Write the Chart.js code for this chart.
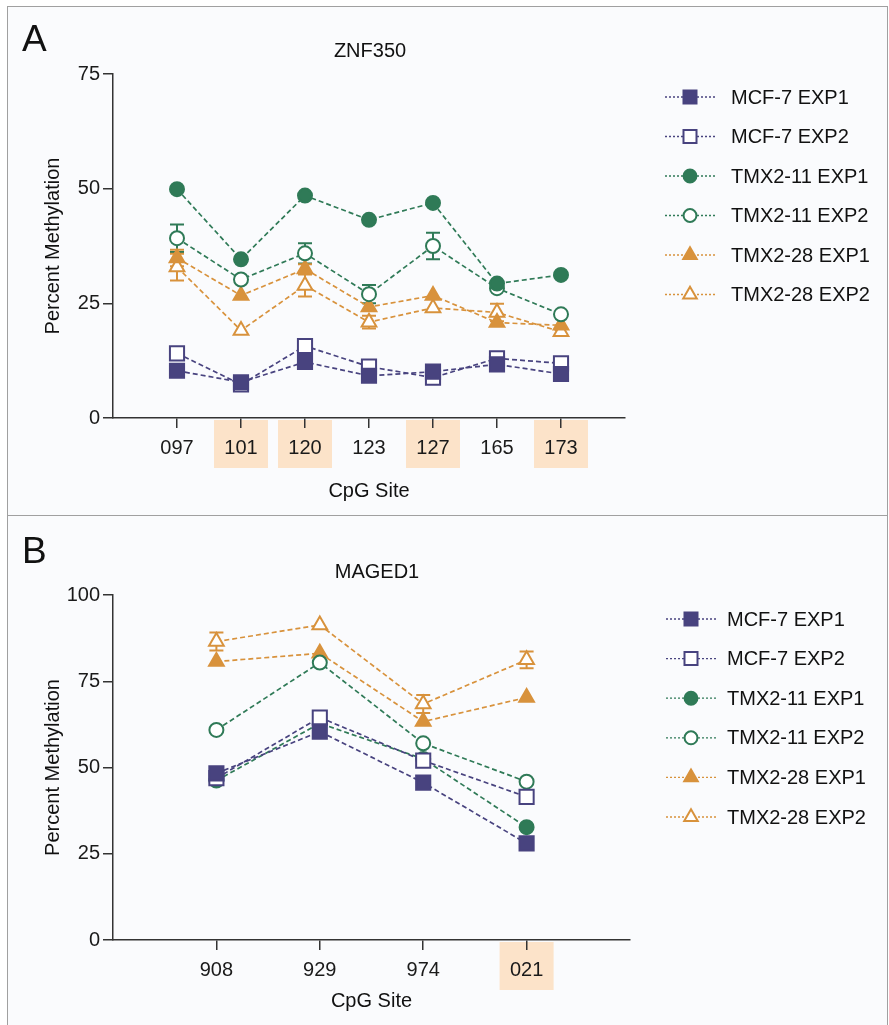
<!DOCTYPE html>
<html>
<head>
<meta charset="utf-8">
<script src="https://cdn.jsdelivr.net/npm/chart.js@4.4.1/dist/chart.umd.min.js"></script>
<style>
  body { margin: 0; background: #fff; width: 889px; height: 1025px; position: relative; overflow: hidden; }
  .panel { position: absolute; left: 7px; width: 881px; border: 1.5px solid #a0a0a0; background: #fafbfd; box-sizing: border-box; }
  #panelA { top: 6px; height: 511px; }
  #panelB { top: 515px; height: 520px; }
  canvas { position: absolute; left: 9px; }
  #chartA { top: 8px; }
  #chartB { top: 518px; }
</style>
</head>
<body>
<div class="panel" id="panelA"></div>
<div class="panel" id="panelB"></div>
<canvas id="chartA" width="878" height="506"></canvas>
<canvas id="chartB" width="878" height="506"></canvas>
<script>
// series names (same for both panels)
var seriesNames = ['MCF-7 EXP1', 'MCF-7 EXP2', 'TMX2-11 EXP1', 'TMX2-11 EXP2', 'TMX2-28 EXP1', 'TMX2-28 EXP2'];

// Panel A - ZNF350
var sitesA = ['097', '101', '120', '123', '127', '165', '173'];
var highlightA = ['101', '120', '127', '173'];
var a_mcf7_exp1 = [10.3, 7.8, 12.2, 9.2, 10.1, 11.7, 9.6];
var a_mcf7_exp2 = [14.1, 7.3, 15.7, 11.2, 8.8, 13.0, 11.9];
var a_tmx11_exp1 = [49.9, 34.6, 48.5, 43.2, 46.9, 29.3, 31.2];
var a_tmx11_exp2 = [39.2, 30.2, 35.9, 27.0, 37.5, 28.3, 22.6];
var a_tmx28_exp1 = [34.9, 26.7, 32.5, 24.2, 26.7, 20.8, 20.2];
var a_tmx28_exp2 = [32.9, 19.1, 28.9, 20.9, 24.0, 23.0, 18.8];
// error bars (0 = none visible)
var a_tmx11_exp2_err = [3.0, 0, 2.2, 2.0, 2.9, 0, 0];
var a_tmx28_exp1_err = [1.8, 0, 1.0, 0, 0, 0, 0];
var a_tmx28_exp2_err = [2.9, 0, 2.4, 1.4, 0, 1.9, 0];
var yTicksA = [0, 25, 50, 75];

// Panel B - MAGED1
var sitesB = ['908', '929', '974', '021'];
var highlightB = ['021'];
var b_mcf7_exp1 = [48.3, 60.4, 45.6, 28.0];
var b_mcf7_exp2 = [46.9, 64.5, 52.0, 41.5];
var b_tmx11_exp1 = [46.2, 62.8, 52.5, 32.7];
var b_tmx11_exp2 = [60.9, 80.4, 57.0, 45.9];
var b_tmx28_exp1 = [80.7, 83.1, 63.3, 70.3];
var b_tmx28_exp2 = [86.5, 91.3, 68.4, 81.2];
var b_tmx28_exp2_err = [2.6, 0, 2.6, 2.4];
var yTicksB = [0, 25, 50, 75, 100];

// styles
var NAVY = '#48437f', GREEN = '#2f7a57', ORANGE = '#d8923c';
var seriesColor = [NAVY, NAVY, GREEN, GREEN, ORANGE, ORANGE];
var seriesShape = ['rect', 'rect', 'circle', 'circle', 'triangle', 'triangle'];
var seriesFilled = [true, false, true, false, true, false];
var seriesRadius = [10, 10, 7, 7, 8.5, 8.5];
var FONT = '"Liberation Sans", Arial, Helvetica, sans-serif';
var AXIS = '#333333';

function drawMarker(ctx, shape, x, y, r, filled, color) {
    ctx.save();
    ctx.beginPath();
    if (shape === 'rect') {
        var s = r * Math.SQRT1_2;
        ctx.rect(x - s, y - s, 2 * s, 2 * s);
    } else if (shape === 'circle') {
        ctx.arc(x, y, r, 0, Math.PI * 2);
    } else {
        ctx.moveTo(x, y - r);
        ctx.lineTo(x + r * 0.866, y + r * 0.5);
        ctx.lineTo(x - r * 0.866, y + r * 0.5);
        ctx.closePath();
    }
    ctx.fillStyle = filled ? color : '#ffffff';
    ctx.fill();
    ctx.lineWidth = 2;
    ctx.strokeStyle = color;
    ctx.stroke();
    ctx.restore();
}

var decorPlugin = {
    id: 'decor',
    beforeDraw: function (chart, args, opts) {
        var ctx = chart.ctx, xs = chart.scales.x, area = chart.chartArea;
        ctx.save();
        ctx.fillStyle = '#fce3c9';
        opts.highlights.forEach(function (lab) {
            var i = opts.sites.indexOf(lab);
            var px = xs.getPixelForValue(i);
            ctx.fillRect(px - 27, area.bottom + 2, 54, 48);
        });
        ctx.restore();
    },
    beforeDatasetsDraw: function (chart, args, opts) {
        var ctx = chart.ctx, ys = chart.scales.y, xs = chart.scales.x;
        ctx.save();
        ctx.lineWidth = 2;
        opts.errors.forEach(function (e) {
            var vals = chart.data.datasets[e.ds].data;
            ctx.strokeStyle = seriesColor[e.ds];
            e.err.forEach(function (d, i) {
                if (!d) return;
                var px = xs.getPixelForValue(i);
                var top = ys.getPixelForValue(vals[i].y + d);
                var bot = ys.getPixelForValue(vals[i].y - d);
                ctx.beginPath();
                ctx.moveTo(px, top); ctx.lineTo(px, bot);
                ctx.moveTo(px - 7, top); ctx.lineTo(px + 7, top);
                ctx.moveTo(px - 7, bot); ctx.lineTo(px + 7, bot);
                ctx.stroke();
            });
        });
        ctx.restore();
    },
    afterDraw: function (chart, args, opts) {
        var ctx = chart.ctx;
        ctx.save();
        ctx.fillStyle = '#111';
        ctx.textBaseline = 'alphabetic';
        ctx.textAlign = 'left';
        ctx.font = '37px ' + FONT;
        ctx.fillText(opts.letter, 13, opts.letterY);
        ctx.textAlign = 'center';
        ctx.font = '20px ' + FONT;
        ctx.fillText(opts.gene, opts.geneX, opts.geneY);

        // legend
        ctx.textAlign = 'left';
        ctx.textBaseline = 'middle';
        ctx.font = '20px ' + FONT;
        seriesNames.forEach(function (name, i) {
            var y = opts.legendY + i * opts.legendStep;
            ctx.save();
            ctx.strokeStyle = seriesColor[i];
            ctx.lineWidth = 1.3;
            ctx.setLineDash([2, 2]);
            ctx.beginPath();
            ctx.moveTo(opts.legendX - 25, y);
            ctx.lineTo(opts.legendX + 25, y);
            ctx.stroke();
            ctx.restore();
            drawMarker(ctx, seriesShape[i], opts.legendX, y, seriesRadius[i] * 0.92, seriesFilled[i], seriesColor[i]);
            ctx.fillStyle = '#111';
            ctx.fillText(name, opts.textX, y + 1);
        });
        ctx.restore();
    }
};

function makeDatasets(seriesList) {
    return seriesList.map(function (vals, i) {
        return {
            label: seriesNames[i],
            data: vals.map(function (v, j) { return { x: j, y: v }; }),
            borderColor: seriesColor[i],
            borderWidth: 1.7,
            borderDash: [5, 3],
            pointStyle: seriesShape[i],
            pointRadius: seriesRadius[i],
            pointBorderWidth: 2,
            pointBorderColor: seriesColor[i],
            pointBackgroundColor: seriesFilled[i] ? seriesColor[i] : '#ffffff',
            tension: 0
        };
    });
}

function makeChart(id, sites, series, yTicks, pad, xHeight, decor) {
    var tickFont = { family: FONT, size: 20 };
    return new Chart(document.getElementById(id), {
        type: 'line',
        data: { datasets: makeDatasets(series) },
        plugins: [decorPlugin],
        options: {
            responsive: false,
            animation: false,
            devicePixelRatio: 1,
            layout: { padding: pad },
            plugins: {
                legend: { display: false },
                title: { display: false },
                tooltip: { enabled: false },
                decor: decor
            },
            scales: {
                x: {
                    type: 'linear',
                    min: -1,
                    max: sites.length,
                    afterBuildTicks: function (s) {
                        s.ticks = sites.map(function (_, i) { return { value: i }; });
                    },
                    afterFit: function (s) { s.height = xHeight; },
                    ticks: {
                        autoSkip: false, maxRotation: 0, padding: 8, color: '#1a1a1a', font: tickFont,
                        callback: function (v) { return sites[v] !== undefined ? sites[v] : ''; }
                    },
                    grid: { drawOnChartArea: false, tickLength: 10, color: AXIS, tickColor: AXIS, lineWidth: 1.5 },
                    border: { color: AXIS, width: 1.5 },
                    title: { display: true, text: 'CpG Site', color: '#111', font: { family: FONT, size: 20 }, padding: { top: 0, bottom: 11 } }
                },
                y: {
                    min: yTicks[0],
                    max: yTicks[yTicks.length - 1],
                    afterBuildTicks: function (s) {
                        s.ticks = yTicks.map(function (v) { return { value: v }; });
                    },
                    afterFit: function (s) { s.width = 104; },
                    ticks: { padding: 3, color: '#1a1a1a', font: tickFont },
                    grid: { drawOnChartArea: false, tickLength: 10, color: AXIS, tickColor: AXIS, lineWidth: 1.5 },
                    border: { color: AXIS, width: 1.5 },
                    title: { display: true, text: 'Percent Methylation', color: '#111', font: { family: FONT, size: 20 }, padding: { top: 32, bottom: 0 } }
                }
            }
        }
    });
}

makeChart('chartA', sitesA,
    [a_mcf7_exp1, a_mcf7_exp2, a_tmx11_exp1, a_tmx11_exp2, a_tmx28_exp1, a_tmx28_exp2],
    yTicksA, { left: 0, top: 66, right: 262, bottom: 0 }, 96,
    {
        sites: sitesA, highlights: highlightA,
        errors: [{ ds: 3, err: a_tmx11_exp2_err }, { ds: 4, err: a_tmx28_exp1_err }, { ds: 5, err: a_tmx28_exp2_err }],
        letter: 'A', letterY: 43, gene: 'ZNF350', geneX: 361, geneY: 49,
        legendX: 681, legendY: 89, legendStep: 39.5, textX: 722
    });

makeChart('chartB', sitesB,
    [b_mcf7_exp1, b_mcf7_exp2, b_tmx11_exp1, b_tmx11_exp2, b_tmx28_exp1, b_tmx28_exp2],
    yTicksB, { left: 0, top: 77, right: 257, bottom: 0 }, 84,
    {
        sites: sitesB, highlights: highlightB,
        errors: [{ ds: 5, err: b_tmx28_exp2_err }],
        letter: 'B', letterY: 45, gene: 'MAGED1', geneX: 368, geneY: 60,
        legendX: 682, legendY: 101, legendStep: 39.6, textX: 718
    });
</script>
</body>
</html>
